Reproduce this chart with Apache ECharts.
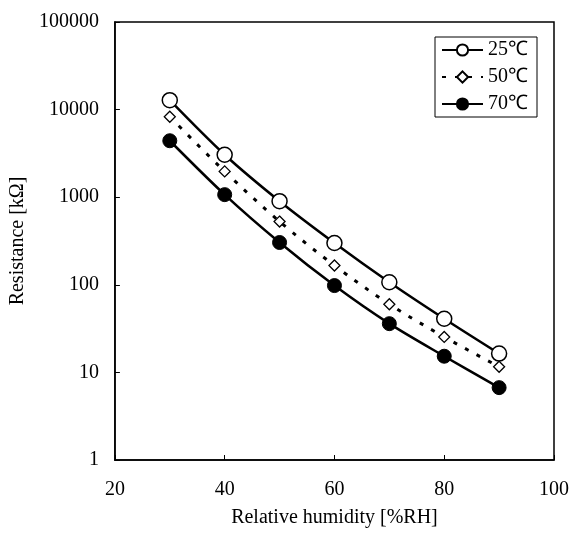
<!DOCTYPE html>
<html>
<head>
<meta charset="utf-8">
<script src="https://cdn.jsdelivr.net/npm/echarts@6/dist/echarts.min.js"></script>
<style>html,body{margin:0;padding:0;background:#fff}#c{width:573px;height:533px}</style>
</head>
<body>
<div id="c"></div>
<script>
const humidity = [30, 40, 50, 60, 70, 80, 90];
const r25 = [12800, 3050, 900, 300, 107, 41, 16.4];
const r50 = [8280, 1970, 527, 166, 60, 25.4, 11.6];
const r70 = [4410, 1070, 304, 98, 36, 15.3, 6.7];
const xTicks = [20, 40, 60, 80, 100];
const yTicks = [1, 10, 100, 1000, 10000, 100000];
const seriesNames = ['25℃', '50℃', '70℃'];

const FONT = 'Liberation Serif';
const pair = (ys) => humidity.map((x, i) => [x, ys[i]]);

const chart = echarts.init(document.getElementById('c'));
chart.setOption({
  animation: false,
  backgroundColor: '#fff',
  grid: { left: 113, right: 19, top: 22, bottom: 66, show: true, borderColor: '#000', borderWidth: 1.5, backgroundColor: 'transparent' },
  legend: {
    data: seriesNames,
    orient: 'vertical',
    left: 435, top: 37,
    itemWidth: 41, itemHeight: 14, itemGap: 7,
    padding: [3, 9, 3, 6],
    borderColor: '#000', borderWidth: 1, backgroundColor: '#fff',
    textStyle: { fontFamily: FONT, fontSize: 20, color: '#000' }
  },
  xAxis: {
    type: 'value', min: xTicks[0], max: xTicks[xTicks.length - 1], interval: 20,
    name: 'Relative humidity [%RH]', nameLocation: 'middle', nameGap: 48,
    nameTextStyle: { fontFamily: FONT, fontSize: 20, color: '#000' },
    axisLine: { lineStyle: { color: '#000', width: 1.5 } },
    axisTick: { inside: true, length: 5, lineStyle: { color: '#000' } },
    axisLabel: { fontFamily: FONT, fontSize: 20, color: '#000', margin: 20 },
    splitLine: { show: false }
  },
  yAxis: {
    type: 'log', logBase: 10, min: yTicks[0], max: yTicks[yTicks.length - 1],
    name: 'Resistance [kΩ]', nameLocation: 'middle', nameGap: 74,
    nameTextStyle: { fontFamily: FONT, fontSize: 20, color: '#000' },
    axisLine: { lineStyle: { color: '#000', width: 1.5 } },
    axisTick: { inside: true, length: 5, lineStyle: { color: '#000' } },
    axisLabel: { fontFamily: FONT, fontSize: 20, color: '#000', margin: 16, formatter: v => String(Math.round(v)) },
    splitLine: { show: false }
  },
  series: [
    { name: seriesNames[0], type: 'line', smooth: 0.3, data: pair(r25),
      symbol: 'circle', symbolSize: 15,
      itemStyle: { color: '#fff', borderColor: '#000', borderWidth: 1.5 },
      lineStyle: { color: '#000', width: 2.5 }, z: 3 },
    { name: seriesNames[1], type: 'line', smooth: 0.3, data: pair(r50),
      symbol: 'diamond', symbolSize: 11,
      itemStyle: { color: '#fff', borderColor: '#000', borderWidth: 1.3 },
      lineStyle: { color: '#000', width: 3, type: [4, 9] }, z: 3 },
    { name: seriesNames[2], type: 'line', smooth: 0.3, data: pair(r70),
      symbol: 'circle', symbolSize: 14,
      itemStyle: { color: '#000', borderColor: '#000', borderWidth: 1 },
      lineStyle: { color: '#000', width: 2.5 }, z: 3 }
  ]
});
</script>
</body>
</html>
